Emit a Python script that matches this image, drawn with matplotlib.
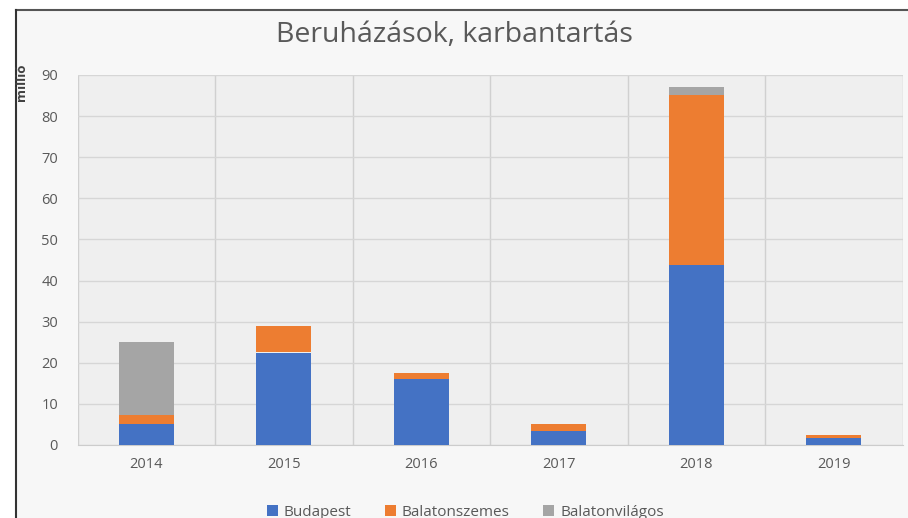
import numpy as np
import matplotlib.pyplot as plt
from matplotlib.patches import Rectangle
from matplotlib.lines import Line2D

plt.rcParams['font.family'] = ['Open Sans', 'DejaVu Sans']

years = ['2014', '2015', '2016', '2017', '2018', '2019']
budapest = [5.0, 22.5, 16.0, 3.3, 43.8, 1.6]
balatonszemes = [2.3, 6.5, 1.5, 1.7, 41.4, 0.8]
balatonvilagos = [17.8, 0.0, 0.0, 0.0, 2.0, 0.0]

series = [
    ('Budapest', budapest, '#4472C4'),
    ('Balatonszemes', balatonszemes, '#ED7D31'),
    ('Balatonvilágos', balatonvilagos, '#A5A5A5'),
]


def main():
    fig = plt.figure(figsize=(9.08, 5.18), dpi=100)
    fig.patch.set_facecolor('white')

    # chart area background and its frame (top and left edges)
    fig.patches.append(Rectangle((16 / 908, 0), 1, 1 - 10 / 518,
                                 transform=fig.transFigure,
                                 facecolor='#f7f7f7', edgecolor='none', zorder=-5))
    fig.lines.append(Line2D([16 / 908, 1], [1 - 10 / 518] * 2,
                            transform=fig.transFigure, color='#555555', lw=1.5, zorder=-4))
    fig.lines.append(Line2D([16 / 908] * 2, [0, 1 - 10 / 518],
                            transform=fig.transFigure, color='#333333', lw=1.5, zorder=-4))

    ax = fig.add_axes([77.5 / 908, 1 - 445 / 518, (902.5 - 77.5) / 908, 370 / 518])
    ax.set_facecolor('#efefef')

    x = np.arange(len(years))
    bottom = np.zeros(len(years))
    for name, vals, color in series:
        ax.bar(x, vals, width=0.4, bottom=bottom, color=color, label=name, zorder=3)
        bottom += np.array(vals)

    ax.set_xlim(-0.5, len(years) - 0.5)
    ax.set_ylim(0, 90)
    ax.set_yticks(range(0, 91, 10))
    ax.set_xticks(x)
    ax.set_xticklabels(years)
    ax.set_xticks(np.arange(-0.5, len(years)), minor=True)

    ax.grid(axis='y', color='#d6d6d6', lw=1, zorder=0)
    ax.grid(axis='x', which='minor', color='#d0d0d0', lw=1, zorder=0)
    ax.grid(axis='x', which='major', visible=False)

    for s in ['left', 'right', 'top']:
        ax.spines[s].set_visible(False)
    ax.spines['bottom'].set_color('#cccccc')

    ax.tick_params(axis='both', which='both', length=0, colors='#595959', labelsize=10.5)
    ax.tick_params(axis='y', pad=14)
    ax.tick_params(axis='x', pad=9)

    fig.text(22 / 908, 1 - 82 / 518, 'millió', rotation=90, ha='center', va='center',
             fontsize=9.5, fontweight='bold', color='#404040')

    fig.text(0.5, 1 - 35 / 518, 'Beruházások, karbantartás', ha='center', va='center',
             fontsize=20.5, color='#595959')

    ax.legend(loc='center', bbox_to_anchor=(0.47, (445 - 512) / 370), ncol=3,
              frameon=False, fontsize=11, labelcolor='#595959',
              handlelength=0.7, handleheight=0.7, handletextpad=0.4, columnspacing=2.2)

    fig.savefig('out.png', dpi=100)


if __name__ == "__main__":
    main()
